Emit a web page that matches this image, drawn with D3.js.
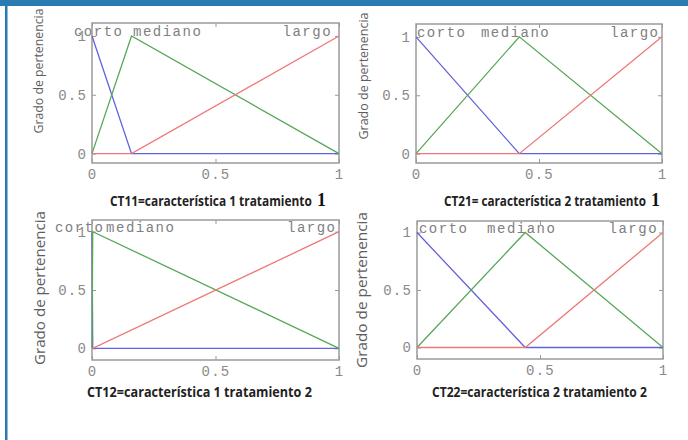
<!DOCTYPE html>
<html>
<head>
<meta charset="utf-8">
<script src="https://cdn.jsdelivr.net/npm/d3@7"></script>
<style>
  html, body { margin: 0; padding: 0; background: #fff; }
  svg { display: block; }
</style>
</head>
<body>
<svg id="chart" width="688" height="440"></svg>
<script>
// Four membership-function panels (corto / mediano / largo)
const panelNames = ["CT11", "CT21", "CT12", "CT22"];
const captionMain = [
  "CT11=característica 1 tratamiento",
  "CT21= característica 2 tratamiento",
  "CT12=característica 1 tratamiento 2",
  "CT22=característica 2 tratamiento 2"
];
const captionBig = ["1", "1", "", ""];

// x of the three vertices of each membership function, per panel
const xPoints = [
  [0, 0.16, 1],
  [0, 0.42, 1],
  [0, 0.003, 1],
  [0, 0.44, 1]
];
const cortoY = [1, 0, 0];
const medianoY = [0, 1, 0];
const largoY = [0, 0, 1];

const setNames = ["corto", "mediano", "largo"];
// where the set names sit, in x data units (largo is end-anchored)
const cortoLabelX = [-0.073, 0.004, -0.15, 0.008];
const medianoLabelX = [0.166, 0.264, 0.057, 0.285];
const largoLabelX = [0.972, 0.99, 0.99, 0.98];

const xTicks = [0, 0.5, 1];
const xTickLabels = ["0", "0.5", "1"];
const yTicks = [0, 0.5, 1];
const yTickLabels = ["0", "0.5", "1"];
const yAxisTitle = "Grado de pertenencia";

// layout of each panel on the page
const layout = [
  { l: 92, r: 339, t: 23, b: 163, y0: -0.08, y1: 1.11, titleX: 39, titleY: 71, titleLen: 125, titleSize: 12.5,
    capX: 110, capW: 202, capY: 206 },
  { l: 416, r: 662, t: 24, b: 163, y0: -0.08, y1: 1.11, titleX: 364, titleY: 76, titleLen: 127, titleSize: 12.5,
    capX: 444, capW: 202, capY: 206 },
  { l: 92, r: 339, t: 220, b: 360, y0: -0.1, y1: 1.1, titleX: 40, titleY: 288, titleLen: 154, titleSize: 14.5,
    capX: 87, capW: 225, capY: 397 },
  { l: 417, r: 663, t: 221, b: 359, y0: -0.1, y1: 1.1, titleX: 362, titleY: 290, titleLen: 156, titleSize: 14.5,
    capX: 432, capW: 215, capY: 397 }
];

const colors = { corto: "#6262dc", mediano: "#58a858", largo: "#ee7878" };
const monoFont = "'Liberation Mono', 'DejaVu Sans Mono', monospace";
const capFont = "'Open Sans', sans-serif";

const svg = d3.select("#chart");

// blue frame of the page
svg.append("rect").attr("x", 0).attr("y", 0).attr("width", 688).attr("height", 6).attr("fill", "#2b7bb3");
svg.append("rect").attr("x", 5).attr("y", 0).attr("width", 2.5).attr("height", 440).attr("fill", "#2b7bb3");

// squeeze a text horizontally to a given width (keeps its bbox honest)
function fitWidth(sel, x0, y0, w) {
  const natural = sel.node().getComputedTextLength();
  sel.attr("transform", `translate(${x0},${y0}) scale(${w / natural},1)`);
}

panelNames.forEach((name, i) => {
  const p = layout[i];
  const x = d3.scaleLinear().domain([0, 1]).range([p.l, p.r]);
  const y = d3.scaleLinear().domain([p.y0, p.y1]).range([p.b, p.t]);
  const g = svg.append("g").attr("id", name);

  // axes: ticks inside the box
  const styleAxis = (sel) => {
    sel.select(".domain").remove();
    sel.selectAll("line").attr("stroke", "#999").attr("stroke-width", 1);
    sel.selectAll("text")
      .attr("fill", "#8a8a8a")
      .style("font-family", monoFont)
      .style("font-size", "14px")
      .style("letter-spacing", "1.2px");
  };

  g.append("g").attr("transform", `translate(0,${p.b})`)
    .call(d3.axisBottom(x).tickValues(xTicks).tickFormat((d, k) => xTickLabels[k])
      .tickSizeInner(-4).tickSizeOuter(0).tickPadding(6))
    .call(styleAxis);
  g.append("g").attr("transform", `translate(0,${p.t})`)
    .call(d3.axisTop(x).tickValues(xTicks).tickFormat("").tickSizeInner(-4).tickSizeOuter(0))
    .call(styleAxis);
  g.append("g").attr("transform", `translate(${p.l},0)`)
    .call(d3.axisLeft(y).tickValues(yTicks).tickFormat((d, k) => yTickLabels[k])
      .tickSizeInner(-4).tickSizeOuter(0).tickPadding(5))
    .call(styleAxis);
  g.append("g").attr("transform", `translate(${p.r},0)`)
    .call(d3.axisRight(y).tickValues(yTicks).tickFormat("").tickSizeInner(-4).tickSizeOuter(0))
    .call(styleAxis);

  // plot box
  g.append("rect")
    .attr("x", p.l).attr("y", p.t)
    .attr("width", p.r - p.l).attr("height", p.b - p.t)
    .attr("fill", "none").attr("stroke", "#9a9a9a").attr("stroke-width", 1.5);

  // membership functions
  const line = d3.line().x(d => x(d[0])).y(d => y(d[1]));
  const series = [
    { key: "corto", ys: cortoY },
    { key: "mediano", ys: medianoY },
    { key: "largo", ys: largoY }
  ];
  series.forEach(s => {
    g.append("path")
      .datum(xPoints[i].map((xv, k) => [xv, s.ys[k]]))
      .attr("d", line)
      .attr("fill", "none")
      .attr("stroke", colors[s.key])
      .attr("stroke-width", 1.3);
  });

  // set names along the top
  const labelX = [cortoLabelX[i], medianoLabelX[i], largoLabelX[i]];
  setNames.forEach((lbl, k) => {
    g.append("text")
      .attr("x", x(labelX[k]))
      .attr("y", y(1))
      .attr("text-anchor", k === 2 ? "end" : "start")
      .attr("fill", "#808080")
      .style("font-family", monoFont)
      .style("font-size", "14px")
      .style("letter-spacing", "1.5px")
      .text(lbl);
  });

  // y axis title
  g.append("text")
    .attr("transform", `translate(${p.titleX},${p.titleY}) rotate(-90)`)
    .attr("text-anchor", "middle")
    .attr("dy", "0.35em")
    .attr("textLength", p.titleLen)
    .attr("lengthAdjust", "spacingAndGlyphs")
    .attr("fill", "#5e5e5e")
    .style("font-family", "'Open Sans', sans-serif")
    .style("font-size", p.titleSize + "px")
    .text(yAxisTitle);

  // caption under the panel (the trailing digit is larger in the top row)
  const cap = g.append("text")
    .attr("fill", "#222")
    .style("font-family", capFont)
    .style("font-weight", "bold")
    .style("font-size", "14px")
    .text(captionMain[i]);
  fitWidth(cap, p.capX, p.capY, p.capW);
  if (captionBig[i]) {
    g.append("text")
      .attr("x", p.capX + p.capW + 5).attr("y", p.capY)
      .attr("fill", "#111")
      .style("font-family", "'Liberation Serif', serif")
      .style("font-weight", "bold")
      .style("font-size", "18px")
      .text(captionBig[i]);
  }
});
</script>
</body>
</html>
